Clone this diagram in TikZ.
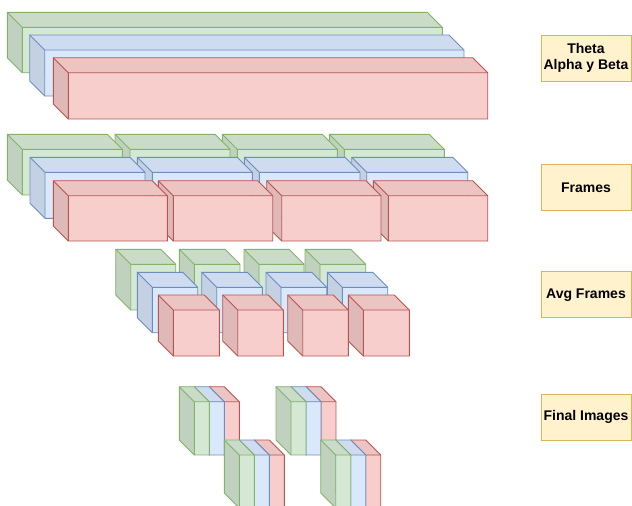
\documentclass[tikz,border=0pt]{standalone}
\usepackage{fontspec}
\setmainfont{Liberation Sans}
\definecolor{gfill}{HTML}{D5E8D4}\definecolor{gline}{HTML}{82B366}
\definecolor{bfill}{HTML}{DAE8FC}\definecolor{bline}{HTML}{6C8EBF}
\definecolor{rfill}{HTML}{F8CECC}\definecolor{rline}{HTML}{B85450}
\definecolor{yfill}{HTML}{FFF2CC}\definecolor{yline}{HTML}{D6B656}
% cube: front face (x0,y0)-(x1,y1), colour prefix, depth 15
\newcommand\mycube[5]{%
  \fill[#5fill] (#1,#2) rectangle (#3,#4);
  \fill[#5fill!90!black] ({#1-15},{#2-15}) -- (#1,#2) -- (#1,#4) -- ({#1-15},{#4-15}) -- cycle;
  \fill[#5fill!95!black] ({#1-15},{#2-15}) -- ({#3-15},{#2-15}) -- (#3,#2) -- (#1,#2) -- cycle;
  \draw[#5line,cubeline] ({#1-15},{#2-15}) -- ({#3-15},{#2-15}) -- (#3,#2) -- (#3,#4) -- (#1,#4) -- ({#1-15},{#4-15}) -- cycle;
  \draw[#5line,cubeline] ({#1-15},{#2-15}) -- (#1,#2) -- (#3,#2) (#1,#2) -- (#1,#4);
}
% slab group: front left x, top y, bottom y
\newcommand\myslabs[3]{%
  \mycube{#1+30}{#2}{#1+45}{#3}{r}
  \mycube{#1+15}{#2}{#1+30}{#3}{b}
  \mycube{#1}{#2}{#1+15}{#3}{g}
}
\tikzset{
  cubeline/.style={line width=0.9pt, line join=miter},
  lbl/.style={draw=yline, fill=yfill, line width=0.9pt, minimum width=90pt, minimum height=46pt,
    inner sep=0pt, align=center, font=\fontsize{14}{16}\selectfont\bfseries}
}
\begin{document}
\begin{tikzpicture}[x=1pt,y=-1pt]
\useasboundingbox (0,0) rectangle (632,506);
\clip (0,0) rectangle (632,506);
\fill[white] (0,0) rectangle (632,506);
% Row 1
\mycube{22.3}{27.3}{442.3}{72.7}{g}
\mycube{44.7}{50}{464}{96}{b}
\mycube{68.3}{72.7}{487.7}{119}{r}
% Row 2
\mycube{344.3}{149.3}{444.3}{195}{g}
\mycube{237.3}{149.3}{337.3}{195}{g}
\mycube{130}{149.3}{230}{195}{g}
\mycube{22.3}{149.3}{122.3}{195}{g}
\mycube{366.7}{172.3}{467.7}{218.3}{b}
\mycube{259.3}{172.3}{360}{218.3}{b}
\mycube{152.3}{172.3}{252.3}{218.3}{b}
\mycube{45}{172.3}{145}{218.3}{b}
\mycube{388.3}{195.7}{487.7}{241}{r}
\mycube{281.7}{195.7}{381}{241}{r}
\mycube{173.3}{195.7}{272.7}{241}{r}
\mycube{68.3}{195.7}{167.3}{241}{r}
% Row 3
\mycube{320}{264.3}{365.7}{310}{g}
\mycube{259}{264.3}{304}{310}{g}
\mycube{194.3}{264.3}{240}{310}{g}
\mycube{130.7}{264.3}{175.7}{310}{g}
\mycube{342.3}{287.3}{387.7}{332.7}{b}
\mycube{281}{287.3}{326.7}{332.7}{b}
\mycube{216.7}{287.3}{262.3}{332.7}{b}
\mycube{152.3}{287.3}{197.7}{332.7}{b}
\mycube{363.3}{310}{409.3}{356}{r}
\mycube{302.7}{310}{348.3}{356}{r}
\mycube{237.7}{310}{283.3}{356}{r}
\mycube{173.3}{310}{219.3}{356}{r}
% Row 4
\myslabs{291}{401.7}{455}
\myslabs{335.7}{455}{508}
\myslabs{194.3}{401.7}{455}
\myslabs{239.3}{455}{508}
% Labels
\node[lbl] (l1) at (586,58) {Theta\\Alpha y Beta};
\node[lbl] (l2) at (586,187.9) {Frames};
\node[lbl] (l3) at (586,294.7) {Avg Frames};
\node[lbl] (l4) at (586,417) {Final Images};
\end{tikzpicture}
\end{document}
